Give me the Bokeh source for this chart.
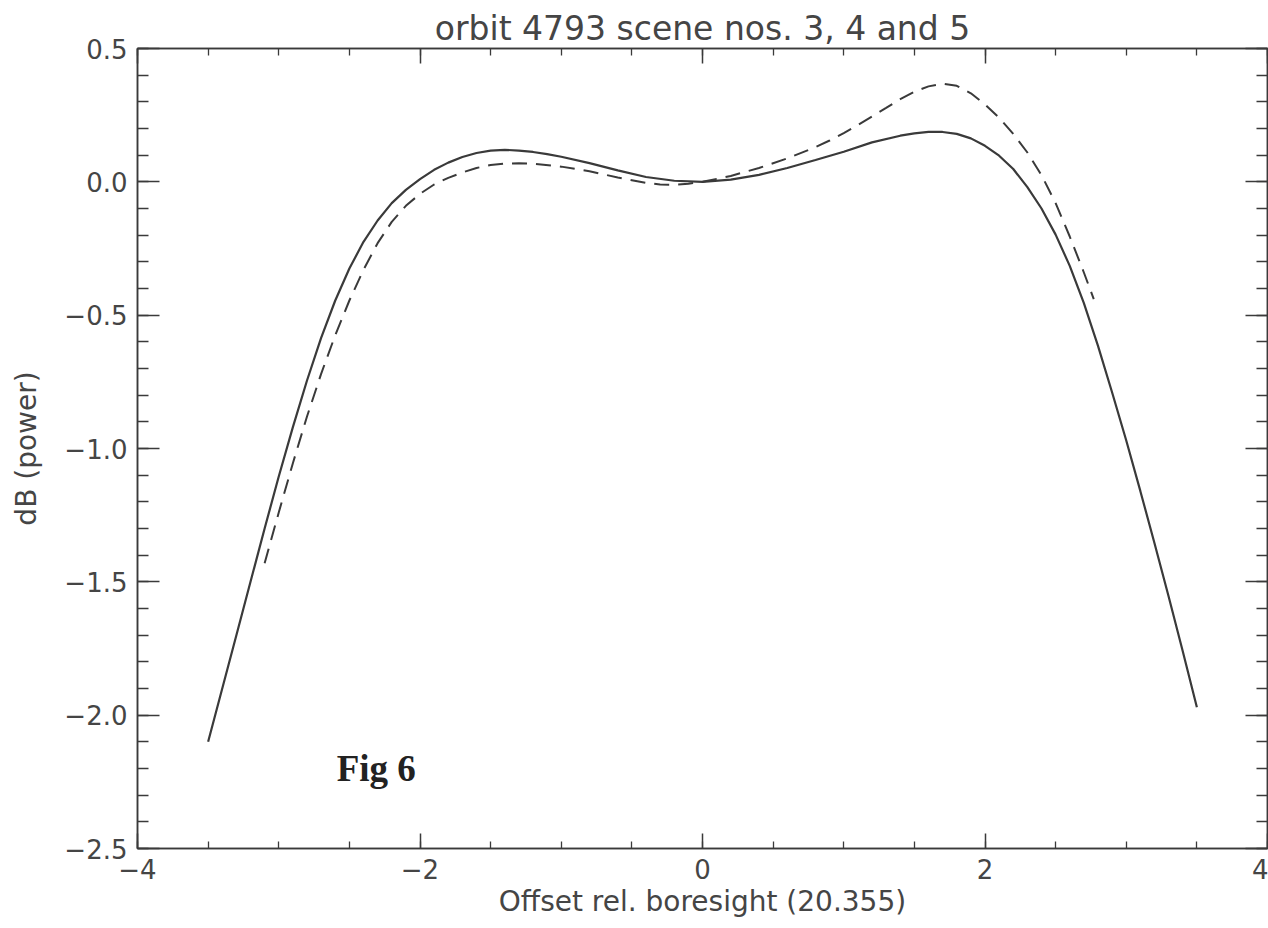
from bokeh.plotting import figure
from bokeh.models import Range1d, LinearAxis, FixedTicker, CustomJSTickFormatter, Label
from bokeh.embed import file_html
from bokeh.resources import INLINE

# ---- data ----
title_text = "orbit 4793 scene nos. 3, 4 and 5"
x_label = "Offset rel. boresight (20.355)"
y_label = "dB (power)"
fig_label = "Fig 6"

x_major = [-4, -2, 0, 2, 4]
x_minor = [-4, -3.5, -3, -2.5, -2, -1.5, -1, -0.5, 0, 0.5, 1, 1.5, 2, 2.5, 3, 3.5, 4]
y_major = [-2.5, -2.0, -1.5, -1.0, -0.5, 0.0, 0.5]
y_minor = [round(-2.5 + 0.1 * i, 1) for i in range(31)]

solid_x = [-3.50, -3.40, -3.30, -3.20, -3.10, -3.00, -2.90, -2.80, -2.70, -2.60,
           -2.50, -2.40, -2.30, -2.20, -2.10, -2.00, -1.90, -1.80, -1.70, -1.60,
           -1.50, -1.40, -1.30, -1.20, -1.10, -1.00, -0.80, -0.60, -0.40, -0.20,
           0.00, 0.20, 0.40, 0.60, 0.80, 1.00, 1.20, 1.40, 1.50, 1.60,
           1.70, 1.80, 1.90, 2.00, 2.10, 2.20, 2.30, 2.40, 2.50, 2.60,
           2.70, 2.80, 2.90, 3.00, 3.10, 3.20, 3.30, 3.40, 3.50]
solid_y = [-2.10, -1.90, -1.70, -1.50, -1.30, -1.105, -0.92, -0.745, -0.585, -0.445,
           -0.325, -0.225, -0.145, -0.080, -0.030, 0.010, 0.045, 0.072, 0.093, 0.108,
           0.117, 0.120, 0.117, 0.112, 0.104, 0.094, 0.070, 0.043, 0.018, 0.004,
           0.000, 0.008, 0.026, 0.052, 0.082, 0.113, 0.148, 0.173, 0.182, 0.187,
           0.187, 0.180, 0.163, 0.135, 0.098, 0.048, -0.020, -0.100, -0.198, -0.315,
           -0.455, -0.615, -0.790, -0.970, -1.160, -1.355, -1.555, -1.760, -1.970]

dash_x = [-3.10, -3.00, -2.90, -2.80, -2.70, -2.60, -2.50, -2.40, -2.30, -2.20,
          -2.10, -2.00, -1.90, -1.80, -1.70, -1.60, -1.50, -1.40, -1.30, -1.20,
          -1.00, -0.80, -0.60, -0.40, -0.30, -0.20, -0.10, 0.00, 0.20, 0.40,
          0.60, 0.80, 0.90, 1.00, 1.10, 1.20, 1.30, 1.40, 1.50, 1.60, 1.70,
          1.80, 1.90, 2.00, 2.10, 2.20, 2.30, 2.40, 2.50, 2.60, 2.70, 2.77]
dash_y = [-1.43, -1.24, -1.055, -0.880, -0.720, -0.575, -0.445, -0.330, -0.230, -0.150,
          -0.090, -0.045, -0.010, 0.015, 0.035, 0.052, 0.063, 0.068, 0.070, 0.068,
          0.057, 0.040, 0.016, -0.004, -0.010, -0.011, -0.007, 0.000, 0.022, 0.052,
          0.088, 0.130, 0.155, 0.183, 0.213, 0.245, 0.277, 0.310, 0.338, 0.358, 0.368,
          0.360, 0.332, 0.290, 0.240, 0.180, 0.110, 0.025, -0.080, -0.205, -0.340, -0.440]

INK = "#3a3a3a"
TEXT_INK = "#454545"
FONT = "DejaVu Sans"

p = figure(width=1268, height=926, output_backend="svg", toolbar_location=None,
           x_range=Range1d(-4, 4), y_range=Range1d(-2.5, 0.5),
           x_axis_label=x_label, y_axis_label=y_label, title=title_text,
           min_border_left=137, min_border_right=1, min_border_top=48, min_border_bottom=78)

p.title.align = "center"
p.title.text_font = FONT
p.title.text_font_size = "33px"
p.title.text_font_style = "normal"
p.title.text_color = TEXT_INK
p.title.vertical_align = "bottom"
p.title.standoff = 1

p.grid.visible = False
p.background_fill_color = "white"
p.border_fill_color = "white"
p.outline_line_color = INK
p.outline_line_width = 1.5

xfmt = CustomJSTickFormatter(code="return (tick < -1e-9 ? '\\u2212' : '') + Math.abs(tick).toFixed(0);")
yfmt = CustomJSTickFormatter(code="return (tick < -1e-9 ? '\\u2212' : '') + Math.abs(tick).toFixed(1);")
blank = CustomJSTickFormatter(code="return '';")

def style_axis(ax, major_in, minor_in, labels=True):
    ax.axis_line_color = INK
    ax.axis_line_width = 1.5
    ax.major_tick_line_color = INK
    ax.minor_tick_line_color = INK
    ax.major_tick_line_width = 1.5
    ax.minor_tick_line_width = 1.3
    ax.major_tick_in = major_in
    ax.major_tick_out = 0
    ax.minor_tick_in = minor_in
    ax.minor_tick_out = 0
    if labels:
        ax.major_label_text_font = FONT
        ax.major_label_text_font_size = "26px"
        ax.major_label_text_color = TEXT_INK
        ax.axis_label_text_font = FONT
        ax.axis_label_text_font_size = "28px"
        ax.axis_label_text_font_style = "normal"
        ax.axis_label_text_color = TEXT_INK
    else:
        ax.formatter = blank
        ax.major_label_text_font_size = "1px"
        ax.major_label_text_color = None
        ax.major_label_standoff = 0
        ax.axis_label = None

xb = p.xaxis[0]
xb.ticker = FixedTicker(ticks=x_major, minor_ticks=x_minor)
xb.formatter = xfmt
style_axis(xb, 15, 7)
xb.major_label_standoff = 10
xb.axis_label_standoff = 3

yl = p.yaxis[0]
yl.ticker = FixedTicker(ticks=y_major, minor_ticks=y_minor)
yl.formatter = yfmt
style_axis(yl, 22, 11)
yl.major_label_standoff = 10
yl.axis_label_standoff = 18

xt = LinearAxis(ticker=FixedTicker(ticks=x_major, minor_ticks=x_minor))
style_axis(xt, 15, 7, labels=False)
p.add_layout(xt, "above")

yr = LinearAxis(ticker=FixedTicker(ticks=y_major, minor_ticks=y_minor))
style_axis(yr, 22, 11, labels=False)
p.add_layout(yr, "right")

p.line(solid_x, solid_y, line_color=INK, line_width=2.2)
p.line(dash_x, dash_y, line_color=INK, line_width=2.0, line_dash="15 9")

p.add_layout(Label(x=-2.59, y=-2.20, text=fig_label, text_font="Liberation Serif",
                   text_font_style="bold", text_font_size="37px", text_color="#222222",
                   text_baseline="alphabetic", text_align="left"))

open("out.html", "w").write(file_html(p, INLINE))
